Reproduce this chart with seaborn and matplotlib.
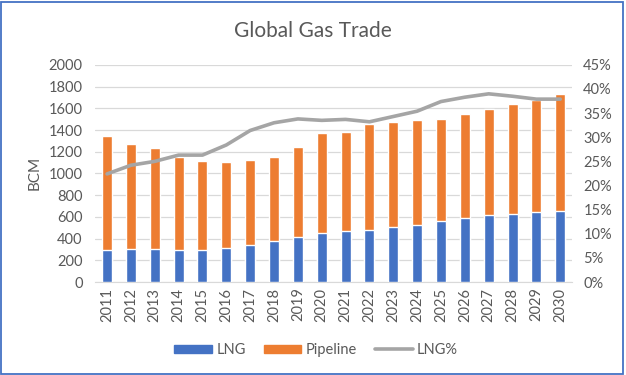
import numpy as np
import pandas as pd
import matplotlib
matplotlib.use("Agg")
import matplotlib.pyplot as plt
import seaborn as sns
from matplotlib.patches import Rectangle
from matplotlib.lines import Line2D
from matplotlib.ticker import PercentFormatter

# ─────────────────────────────────────────────
# DATA
# ─────────────────────────────────────────────
years = [str(y) for y in range(2011, 2031)]
lng = [299, 305, 305, 299, 292, 314, 345, 376, 413, 452,
       468, 483, 505, 523, 560, 591, 618, 628, 643, 652]
total = [1345, 1268, 1231, 1154, 1117, 1108, 1123, 1154, 1240, 1370,
         1384, 1455, 1477, 1492, 1499, 1545, 1597, 1637, 1680, 1730]
lng_pct = [22.4, 24.2, 25.0, 26.3, 26.3, 28.4, 31.4, 33.0, 33.8, 33.5,
           33.7, 33.2, 34.3, 35.4, 37.4, 38.3, 39.0, 38.5, 37.9, 37.9]

df = pd.DataFrame({"year": years, "LNG": lng, "Total": total, "LNGpct": lng_pct})

BLUE = "#4472C4"
ORANGE = "#ED7D31"
GREY = "#A5A5A5"
TXT = "#595959"

sns.set_style("white")
plt.rcParams["font.family"] = ["Lato", "DejaVu Sans"]

fig = plt.figure(figsize=(6.26, 3.75), dpi=100)
ax = fig.add_axes([0.152, 0.248, 0.762, 0.579])

# stacked bars: total (orange) behind, LNG (blue) in front
sns.barplot(data=df, x="year", y="Total", color=ORANGE, width=0.42,
            saturation=1, ax=ax, zorder=2)
sns.barplot(data=df, x="year", y="LNG", color=BLUE, width=0.42,
            saturation=1, ax=ax, zorder=3)

ax.set_ylim(0, 2000)
ax.set_yticks(range(0, 2001, 200))
ax.set_xlim(-0.5, len(years) - 0.5)
ax.grid(axis="y", color="#D9D9D9", lw=0.9, zorder=0)
ax.set_axisbelow(True)
for s in ax.spines.values():
    s.set_visible(False)
ax.spines["bottom"].set_visible(True)
ax.spines["bottom"].set_color("#D9D9D9")
ax.tick_params(axis="both", length=0, colors=TXT, labelsize=10.5)
ax.tick_params(axis="y", pad=9)
ax.tick_params(axis="x", rotation=90, pad=4)
ax.set_xlabel("")
ax.set_ylabel("BCM", color=TXT, fontsize=11, labelpad=5)

ax2 = ax.twinx()
sns.lineplot(x=np.arange(len(years)), y=df["LNGpct"], color=GREY, lw=2.6,
             ax=ax2, zorder=4)
ax2.set_ylim(0, 45)
ax2.set_yticks(range(0, 46, 5))
ax2.yaxis.set_major_formatter(PercentFormatter(decimals=0))
ax2.set_ylabel("")
for s in ax2.spines.values():
    s.set_visible(False)
ax2.tick_params(axis="y", length=0, colors=TXT, labelsize=10.5, pad=8)

fig.suptitle("Global Gas Trade", y=0.945, fontsize=15, color=TXT)

handles = [Rectangle((0, 0), 1, 1, color=BLUE),
           Rectangle((0, 0), 1, 1, color=ORANGE),
           Line2D([], [], color=GREY, lw=2.6)]
fig.legend(handles, ["LNG", "Pipeline", "LNG%"], loc="center",
           bbox_to_anchor=(0.505, 0.067), ncol=3, frameon=False,
           fontsize=10.5, labelcolor=TXT, handlelength=2.6, handleheight=0.5,
           columnspacing=1.2, handletextpad=0.3)

fig.patches.append(Rectangle((0.002, 0.004), 0.994, 0.99, transform=fig.transFigure,
                             fill=False, edgecolor=BLUE, lw=1.3))

fig.savefig("out.png", dpi=100)
